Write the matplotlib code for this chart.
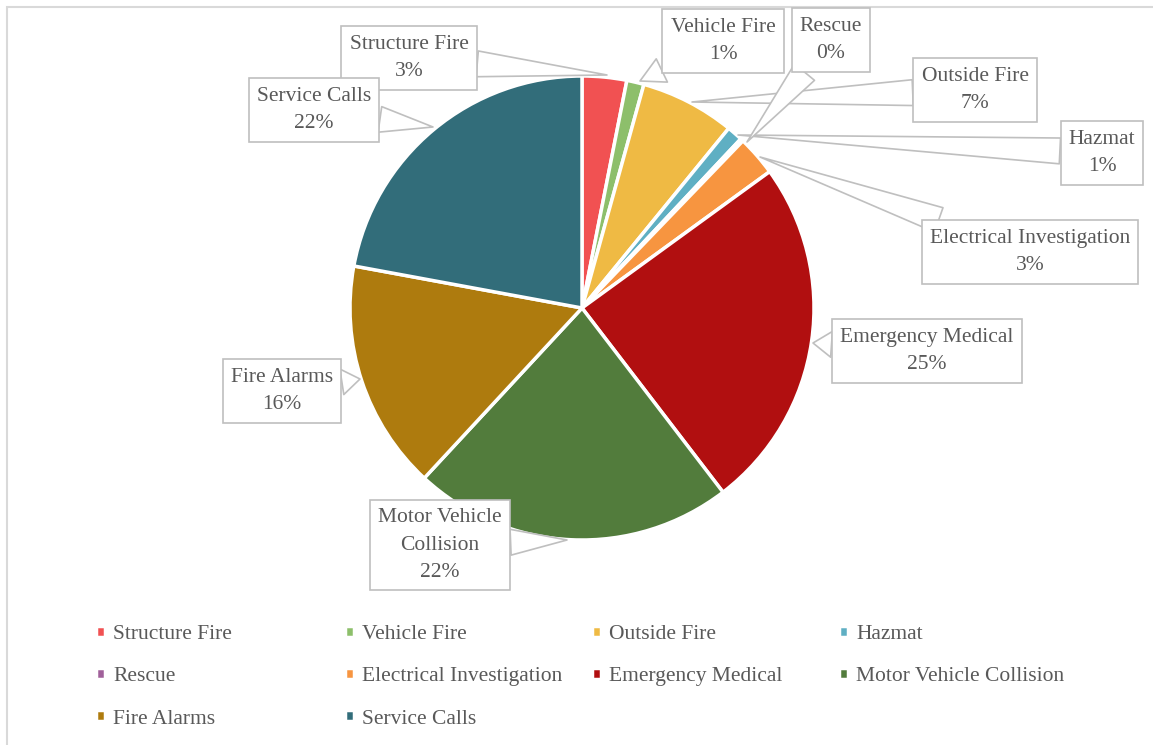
import matplotlib.pyplot as plt
from matplotlib.patches import Rectangle

# Datos del gráfico (porcentajes aproximados)
categorias = ['Structure Fire', 'Vehicle Fire', 'Outside Fire', 'Hazmat', 'Rescue',
              'Electrical Investigation', 'Emergency Medical', 'Motor Vehicle Collision',
              'Fire Alarms', 'Service Calls']
valores = [3.1, 1.2, 6.6, 1.1, 0.2, 2.8, 24.6, 22.3, 16.0, 22.1]
etiquetas_pct = ['3%', '1%', '7%', '1%', '0%', '3%', '25%', '22%', '16%', '22%']
colores = ['#F15152', '#8DBF6B', '#EFBA44', '#5FAFC3', '#A0609A',
           '#F79540', '#B10F10', '#527C3C', '#AE7B0E', '#326D7A']

# Posición de las cajas (centro, en píxeles) y punta del señalador
cajas = [(409, 58), (723, 41), (975, 90), (1102, 153), (831, 40),
         (1030, 252), (927, 351), (440, 545), (282, 391), (314, 110)]
puntas = [(607, 75), (640, 81), (692, 102), (738, 135), (747, 142),
          (760, 157), (813, 343), (567, 540), (360, 379), (433, 127)]
textos_caja = ['Structure Fire', 'Vehicle Fire', 'Outside Fire', 'Hazmat', 'Rescue',
               'Electrical Investigation', 'Emergency Medical', 'Motor Vehicle\nCollision',
               'Fire Alarms', 'Service Calls']

W, H = 1153, 745
gris = '#595959'
plt.rcParams['font.family'] = ['Liberation Serif', 'DejaVu Serif']

fig = plt.figure(figsize=(W / 100, H / 100), dpi=100)
ax = fig.add_axes([0, 0, 1, 1])

wedges, _ = ax.pie(valores, colors=colores, startangle=90, counterclock=False,
                   center=(582, H - 308), radius=232,
                   wedgeprops=dict(edgecolor='white', linewidth=2.5))
ax.set_xlim(0, W)
ax.set_ylim(0, H)
ax.set_aspect('equal')
ax.axis('off')

# Borde del área del gráfico
ax.add_patch(Rectangle((6.5, -10), W + 20, H - 7 + 10, fill=False,
                       edgecolor='#D9D9D9', linewidth=1.5))

# Etiquetas tipo globo
for txt, pct, (cx, cy), (px, py) in zip(textos_caja, etiquetas_pct, cajas, puntas):
    ax.annotate(f'{txt}\n{pct}', xy=(px, H - py), xytext=(cx, H - cy),
                ha='center', va='center', fontsize=15.5, color=gris, linespacing=1.62,
                bbox=dict(boxstyle='square,pad=0.38', fc='white', ec='#BFBFBF', lw=1.2),
                arrowprops=dict(arrowstyle='wedge,tail_width=1.2', fc='white',
                                ec='#BFBFBF', lw=1.2, shrinkA=0, shrinkB=0))

# Leyenda abajo: 4 columnas de ancho fijo, orden por filas
col_x = [96, 345, 592, 839]
for c in range(4):
    idx = list(range(c, len(categorias), 4))
    fig.legend([wedges[i] for i in idx], [categorias[i] for i in idx],
               loc='upper left', bbox_to_anchor=(col_x[c] / W, 1 - 625 / H),
               frameon=False, fontsize=15.5, labelcolor=gris, handlelength=0.4,
               handleheight=0.4, handletextpad=0.4, labelspacing=1.08,
               borderpad=0, borderaxespad=0)

plt.savefig('out.png', dpi=100)
